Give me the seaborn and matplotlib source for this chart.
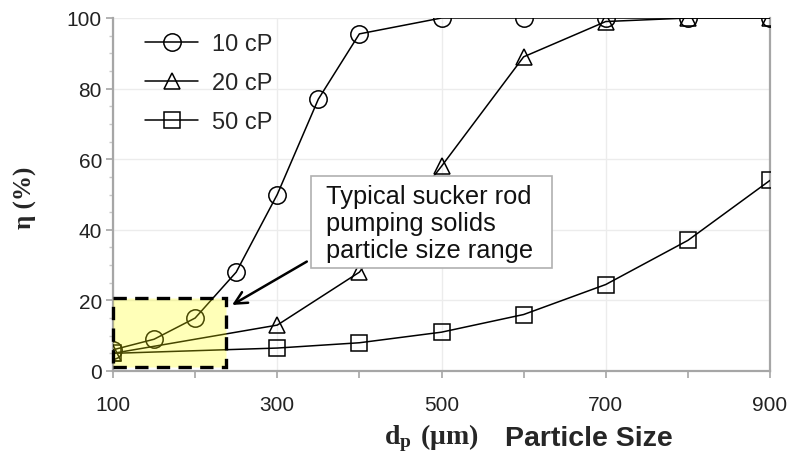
import numpy as np
import pandas as pd
import matplotlib
matplotlib.use("Agg")
import matplotlib.pyplot as plt
import seaborn as sns
from matplotlib.patches import Rectangle
from matplotlib.ticker import MultipleLocator

# ---- data ----
x_10cp = [100, 150, 200, 250, 300, 350, 400, 500, 600, 700, 800, 900]
y_10cp = [6, 9, 15, 28, 50, 77, 95.5, 100, 100, 100, 100, 100]
x_20cp = [100, 300, 400, 500, 600, 700, 800, 900]
y_20cp = [5, 13, 28, 58, 89, 99, 100, 100]
x_50cp = [100, 300, 400, 500, 600, 700, 800, 900]
y_50cp = [5, 6.5, 8, 11, 16, 24.5, 37, 54]
series_labels = ["10 cP", "20 cP", "50 cP"]
series_markers = ["o", "^", "s"]
x_ticks = [100, 300, 500, 700, 900]
y_ticks = [0, 20, 40, 60, 80, 100]
box_text = "Typical sucker rod\npumping solids\nparticle size range"

sns.set_theme(style="white")
plt.rcParams["font.family"] = ["Liberation Sans", "DejaVu Sans"]
plt.rcParams["mathtext.fontset"] = "custom"
plt.rcParams["mathtext.rm"] = "Liberation Serif"
plt.rcParams["mathtext.bf"] = "Liberation Serif:bold"

fig = plt.figure(figsize=(7.93, 4.60), dpi=100)
ax = fig.add_axes([113/793, 1-372/460, (770-113)/793, (372-19)/460])

xs = [x_10cp, x_20cp, x_50cp]
ys = [y_10cp, y_20cp, y_50cp]
msizes = [12.5, 11.5, 11]
for xv, yv, lab, mk, ms in zip(xs, ys, series_labels, series_markers, msizes):
    df = pd.DataFrame({"x": xv, "y": yv})
    sns.lineplot(data=df, x="x", y="y", ax=ax, color="black", marker=mk,
                 markersize=ms, markerfacecolor="none", markeredgecolor="black",
                 markeredgewidth=1.1, linewidth=1.1, label=lab, zorder=3)

ax.set_xlim(100, 900)
ax.set_ylim(0, 100)
ax.set_xticks(x_ticks)
ax.set_yticks(y_ticks)
ax.xaxis.set_minor_locator(MultipleLocator(100))
ax.yaxis.set_minor_locator(MultipleLocator(5))
ax.set_xlabel("")
ax.set_ylabel("")
ax.grid(True, which="major", color="#ececec", linewidth=1.0)
ax.set_axisbelow(True)
for s in ["left", "bottom", "right"]:
    ax.spines[s].set_color("#a6a6a6")
    ax.spines[s].set_linewidth(1.6)
ax.spines["top"].set_visible(False)
ax.tick_params(axis="x", which="both", direction="out", length=5, width=1.2,
               color="#a6a6a6", labelsize=15, pad=12, bottom=True, labelcolor="#222222")
ax.tick_params(axis="y", which="major", direction="out", length=5, width=1.2,
               color="#a6a6a6", labelsize=15, pad=3, left=True, labelcolor="#222222")
ax.tick_params(axis="y", which="minor", direction="out", length=3, width=1.0,
               color="#c8c8c8", left=True)

# highlighted range
rect = Rectangle((100, 1), 137, 19.7, facecolor=(1, 1, 0, 0.28), edgecolor="black",
                 linewidth=2.4, linestyle=(0, (4, 2.5)), zorder=4, clip_on=False)
ax.add_patch(rect)

# annotation box
ax.add_patch(Rectangle((0.301, 0.292), 0.367, 0.26, transform=ax.transAxes,
                       facecolor="white", edgecolor="#b0b0b0", linewidth=1.2, zorder=5))
ax.text(0.324, 0.529, box_text, transform=ax.transAxes, ha="left", va="top",
        fontsize=18.3, linespacing=1.15, color="#111111", zorder=6)
ax.annotate("", xy=(245, 18.7), xytext=(336, 31),
            arrowprops=dict(arrowstyle="->", color="black", lw=1.8,
                            mutation_scale=22, shrinkA=0, shrinkB=0), zorder=6)

leg = ax.legend(loc="upper left", bbox_to_anchor=(0.049, 0.957), frameon=False,
                fontsize=17, handlelength=2.25, handletextpad=0.6,
                labelspacing=0.72, borderpad=0, borderaxespad=0)

fig.text(25/793, 1-198/460, "η (%)", rotation=90, ha="center", va="center",
         fontsize=18, fontweight="bold", family=["Liberation Serif", "DejaVu Serif"])
fig.text(431/793, 1-438/460, r"$\mathbf{d_p\ (μm)}$", ha="center", va="center",
         fontsize=20)
fig.text(589/793, 1-439/460, "Particle Size", ha="center", va="center",
         fontsize=20.5, fontweight="bold", family=["Liberation Sans", "DejaVu Sans"])

fig.savefig("out.png", dpi=100)
